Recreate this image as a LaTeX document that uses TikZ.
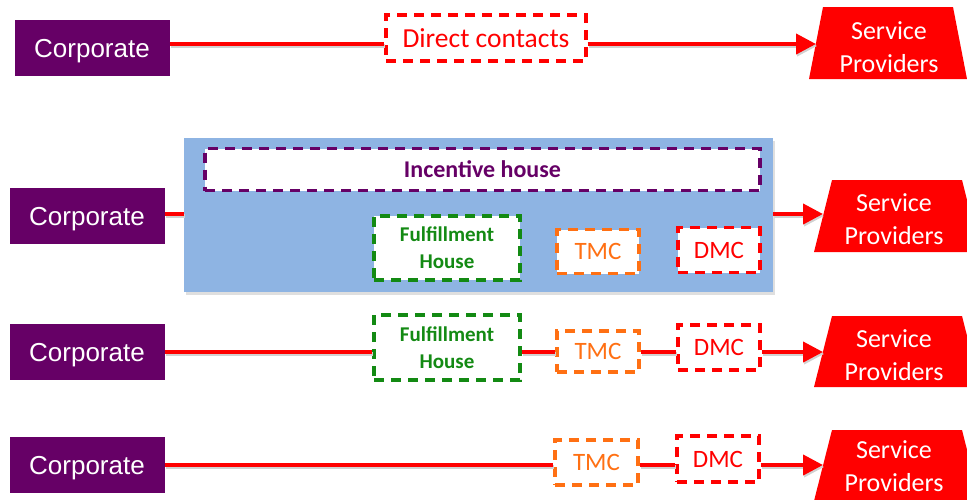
\documentclass[tikz,border=0pt]{standalone}
\usepackage{fontspec}
\setmainfont{Carlito}
\newfontfamily\corpfont{Liberation Sans}
\usetikzlibrary{arrows.meta,shadows}
\definecolor{corpPurple}{HTML}{660066}
\definecolor{spRed}{HTML}{FF0000}
\definecolor{boxBlue}{HTML}{8EB4E3}
\definecolor{ffGreen}{HTML}{138A13}
\definecolor{tmcOrange}{HTML}{FF7013}
\begin{document}
\begin{tikzpicture}[x=1pt,y=-1pt,
 corp/.style={fill=corpPurple, text=white, font=\corpfont\fontsize{26}{30}\selectfont, text depth=0pt, minimum width=155pt, minimum height=56pt, inner sep=0pt},
 dbox/.style={draw, dash pattern=on 10pt off 7pt, line width=3.4pt, fill=white, inner sep=0pt, align=center, text depth=0pt},
 dcbox/.style={dbox, draw=spRed, text=spRed, font=\fontsize{27.5}{32}\selectfont},
 ffbox/.style={dbox, draw=ffGreen, text=ffGreen, font=\bfseries\fontsize{21}{27}\selectfont, minimum width=146pt, minimum height=64pt},
 tmcbox/.style={dbox, draw=tmcOrange, text=tmcOrange, font=\fontsize{25}{30}\selectfont, minimum width=82pt, minimum height=44pt},
 dmcbox/.style={dbox, draw=spRed, text=spRed, font=\fontsize{25}{30}\selectfont, minimum width=82pt, minimum height=45pt},
 link/.style={draw=spRed, line width=4pt, preaction={draw=black!18, line width=4pt, transform canvas={shift={(1pt,-2pt)}}}},
 arr/.style={link, -{Triangle[length=20pt,width=20pt]}},
 sptext/.style={text=white, font=\fontsize{26}{33}\selectfont, align=center, text depth=0pt},
 spshape/.style={fill=spRed}]
\useasboundingbox (0,0) rectangle (967,499);
\clip (0,0) rectangle (967,499);

% Row 1
\node[corp] (c1) at (92,48) {Corporate};
\node[dcbox, minimum width=200pt, minimum height=46pt] (dc) at (486,38) {Direct contacts};
\fill[spshape] (809,79) -- (823,7) -- (953,7) -- (967,79) -- cycle;
\node[sptext] (s1) at (889,47) {Service\\Providers};
\coordinate (s1w) at (816,44);
\draw[link] (c1.east |- s1w) -- (dc.west |- s1w);
\draw[arr] (dc.east |- s1w) -- (s1w);

% Row 2
\node[fill=boxBlue, minimum width=589pt, minimum height=154pt, inner sep=0pt, drop shadow={opacity=0.25, shadow xshift=2pt, shadow yshift=-3pt}] (blue) at (478.5,215) {};
\node[dbox, draw=corpPurple, text=corpPurple, font=\bfseries\fontsize{24}{28}\selectfont, minimum width=555pt, minimum height=42pt] (inc) at (482.5,169.5) {Incentive house};
\node[ffbox] (ff2) at (447,248) {Fulfillment\\House};
\node[tmcbox] (t2) at (598,251.5) {TMC};
\node[dmcbox] (d2) at (719,250) {DMC};
\node[corp] (c2) at (87,216) {Corporate};
\fill[spshape] (814,252) -- (832,180) -- (962,180) -- (980,252) -- cycle;
\node[sptext] (s2) at (894,219.5) {Service\\Providers};
\coordinate (s2w) at (823,214);
\draw[link] (c2.east |- s2w) -- (blue.west |- s2w);
\draw[arr] (blue.east |- s2w) -- (s2w);

% Row 3
\node[corp] (c3) at (87,352) {Corporate};
\node[ffbox, minimum height=65pt] (ff3) at (447,347.5) {Fulfillment\\House};
\node[tmcbox, minimum height=41pt] (t3) at (598,351.5) {TMC};
\node[dmcbox] (d3) at (719,347.5) {DMC};
\fill[spshape] (814,387) -- (832,316) -- (962,316) -- (980,387) -- cycle;
\node[sptext] (s3) at (894,355) {Service\\Providers};
\coordinate (s3w) at (823,352);
\draw[link] (c3.east) -- (ff3.west |- c3.east);
\draw[link] (ff3.east |- c3.east) -- (t3.west |- c3.east);
\draw[link] (t3.east |- c3.east) -- (d3.west |- c3.east);
\draw[arr] (d3.east |- c3.east) -- (s3w);

% Row 4
\node[corp] (c4) at (87,465) {Corporate};
\node[tmcbox, minimum width=83pt, minimum height=45pt] (t4) at (596.5,462.5) {TMC};
\node[dmcbox, minimum height=46pt] (d4) at (718,459) {DMC};
\fill[spshape] (814,501) -- (832,430) -- (962,430) -- (980,501) -- cycle;
\node[sptext] (s4) at (894,466.5) {Service\\Providers};
\coordinate (s4w) at (823,465);
\draw[link] (c4.east) -- (t4.west |- c4.east);
\draw[link] (t4.east |- c4.east) -- (d4.west |- c4.east);
\draw[arr] (d4.east |- c4.east) -- (s4w);
\end{tikzpicture}
\end{document}
